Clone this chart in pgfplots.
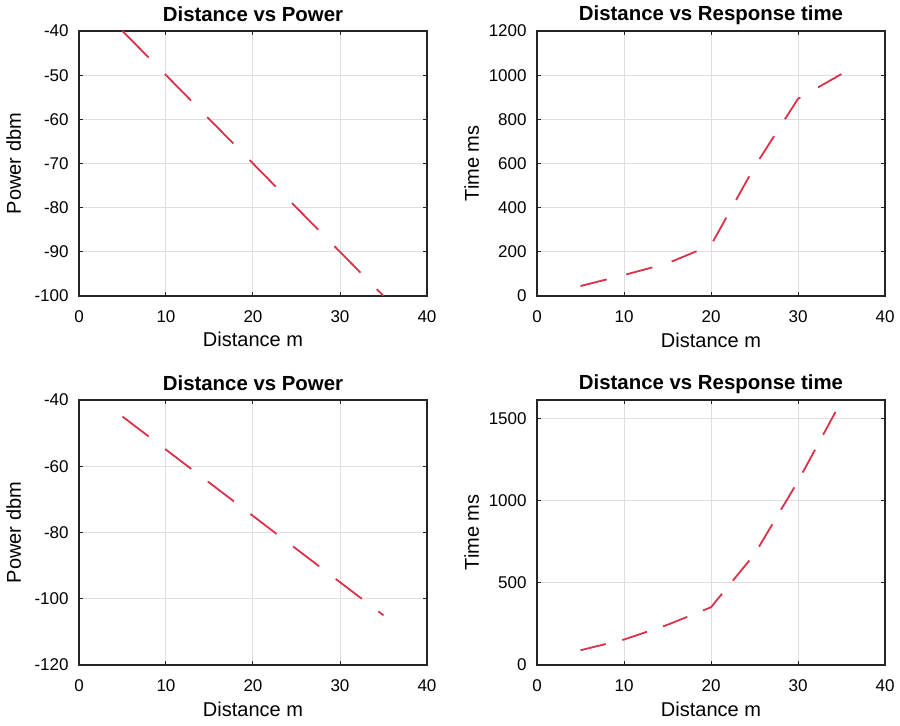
\documentclass[border=0pt]{standalone}
\usepackage{fontspec}
\setmainfont{Liberation Sans}
\usepackage{pgfplots}
\pgfplotsset{compat=1.18}
\definecolor{linered}{RGB}{218,48,72}
\definecolor{gridgray}{RGB}{222,222,222}

\pgfplotsset{
  panel/.style={
    scale only axis,
    width=174pt, height=132.5pt,
    xmin=0, xmax=40,
    xtick={0,10,20,30,40},
    axis line style={black!85, line width=0.6pt},
    grid=major,
    major grid style={gridgray, line width=0.5pt},
    tick align=inside,
    major tick length=2pt,
    tick style={black!85, line width=0.5pt},
    /pgf/number format/assume math mode=true,
    /pgf/number format/1000 sep={},
    tick label style={font=\fontsize{8.5}{10}\selectfont},
    yticklabel style={anchor=east, inner sep=0pt, xshift=-5pt},
    xticklabel style={anchor=base, inner sep=0pt, yshift=-13.3pt},
    xlabel={Distance m},
    label style={font=\fontsize{10}{12}\selectfont},
    xlabel style={at={(axis description cs:0.5,-0.1925)}, anchor=base},
    ylabel style={at={(axis description cs:-0.1667,0.5)}, anchor=base},
    every axis title shift=0pt,
    title style={at={(axis description cs:0.5,1.0377)}, anchor=base,
                 font=\fontsize{10.2}{12}\selectfont\bfseries},
  },
  redline/.style={color=linered, line width=0.9pt, no marks},
}

\begin{document}
\begin{tikzpicture}
\useasboundingbox (0,0) rectangle (450pt,363pt);

% top left
\begin{axis}[panel, at={(39.5pt,215pt)},
    ymin=-100, ymax=-40, ytick={-100,-90,-80,-70,-60,-50,-40},
    ylabel={Power dbm}, title={Distance vs Power}]
\addplot[redline, dash pattern=on 18.6pt off 11.6pt] coordinates {
  (5,-40) (10,-50) (15,-60) (20,-70) (25,-80) (30,-90) (35,-100)
};
\end{axis}

% top right
\begin{axis}[panel, at={(268.5pt,215pt)},
    ymin=0, ymax=1200, ytick={0,200,400,600,800,1000,1200},
    ylabel={Time ms}, title={Distance vs Response time}]
\addplot[redline, dash pattern=on 13.5pt off 10.1pt] coordinates {
  (5,45) (10,95) (15,148) (20,230) (25,585) (30,893) (35,1005)
};
\end{axis}

% bottom left
\begin{axis}[panel, at={(39.5pt,30.5pt)},
    ymin=-120, ymax=-40, ytick={-120,-100,-80,-60,-40},
    ylabel={Power dbm}, title={Distance vs Power}]
\addplot[redline, dash pattern=on 16.4pt off 10.4pt] coordinates {
  (5,-45) (10,-55) (15,-65) (20,-75) (25,-85) (30,-95) (35,-105)
};
\end{axis}

% bottom right
\begin{axis}[panel, at={(268.5pt,30.5pt)},
    ymin=0, ymax=1615, ytick={0,500,1000,1500},
    ylabel={Time ms}, title={Distance vs Response time}]
\addplot[redline, dash pattern=on 13pt off 8.5pt] coordinates {
  (5,90) (10,155) (15,245) (20,352) (25,675) (30,1120) (35,1610)
};
\end{axis}
\end{tikzpicture}
\end{document}
